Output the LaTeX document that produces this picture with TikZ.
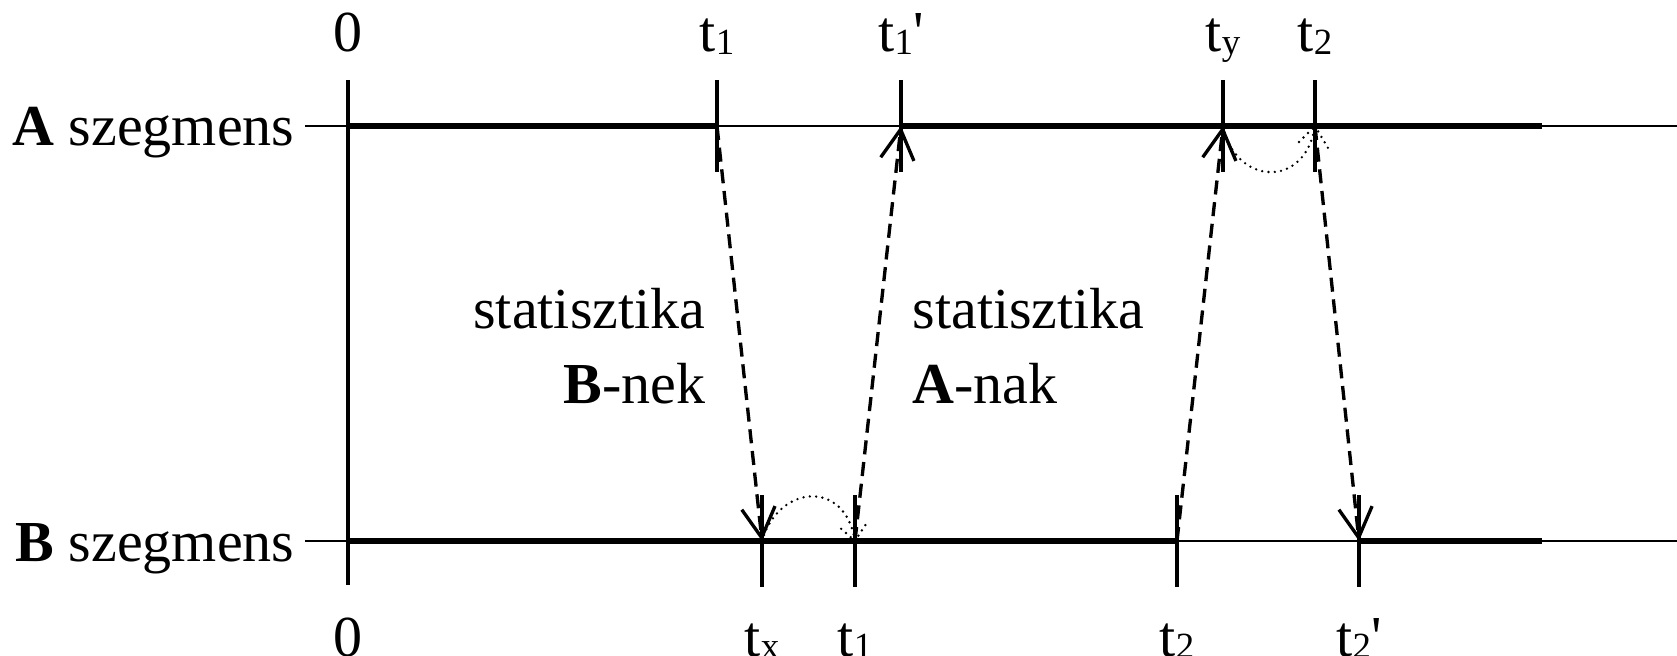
\documentclass[tikz,border=0pt]{standalone}
\usepackage{fontspec}
\setmainfont{Liberation Serif}
\usetikzlibrary{arrows.meta,calc,positioning}
% t with a small index
\newcommand{\tsub}[1]{t\raisebox{-0.85pt}{\fontsize{10.5}{10}\selectfont #1}}

\begin{document}
\begin{tikzpicture}[font=\fontsize{16.5}{21.3}\selectfont,
  axis/.style={line width=0.4pt},
  seg/.style={line width=1.9pt},
  tick/.style={line width=1pt},
  msg/.style={line width=0.95pt,dash pattern=on 4pt off 2.2pt,-{Straight Barb[length=8.5pt,width=9.5pt]}},
  wait/.style={line width=0.75pt,line cap=round,dash pattern=on 0pt off 1.8pt},
  lab/.style={anchor=base,inner sep=0pt}]
\useasboundingbox (-3.48,-1.14) rectangle (13.29,5.41);
% the two time axes: A at y=4.15, B at y=0
\foreach \y/\s in {4.15/A,0/B}{
  \draw[axis] (-0.43,\y) coordinate (\s L) -- (13.29,\y) coordinate (\s R);
  \node[anchor=base east,inner sep=0pt] (name\s) at (-0.53,\y-0.2) {\textbf{\s} szegmens};
}
\foreach \n/\x in {a0/0,a1/3.69,a1p/5.53,ay/8.75,a2/9.67,aE/11.94}
  \coordinate (\n) at (\x,4.15);
\foreach \n/\x in {b0/0,bx/4.14,b1/5.07,b2/8.29,b2p/10.11,bE/11.94}
  \coordinate (\n) at (\x,0);
% busy parts of the segments
\draw[seg] (a0) -- (a1) (a1p) -- (aE);
\draw[seg] (b0) -- (b2) (b2p) -- (bE);
\draw[tick] ($(a0)+(0,0.46)$) -- ($(b0)+(0,-0.44)$);
\foreach \p in {a1,a1p,ay,a2,bx,b1,b2,b2p}
  \draw[tick] ($(\p)+(0,0.46)$) -- ($(\p)+(0,-0.46)$);
% time marks
\foreach \p/\t in {a0/0,a1/{\tsub{1}},a1p/{\tsub{1}\textquotesingle},ay/{\tsub{y}},a2/{\tsub{2}}}
  \node[lab] (l\p) at ($(\p)+(0,0.74)$) {\t};
\foreach \p/\t in {b0/0,bx/{\tsub{x}},b1/{\tsub{1}},b2/{\tsub{2}},b2p/{\tsub{2}\textquotesingle}}
  \node[lab] (l\p) at ($(\p)+(0,-1.15)$) {\t};
% statistics sent over
\draw[msg] (a1) -- (bx);
\draw[msg] (b1) -- (a1p);
\draw[msg] (b2) -- (ay);
\draw[msg] (a2) -- (b2p);
\draw[wait] (bx) .. controls +(0.16,0.56) and +(-0.1,0.63) .. (b1) -- ++(-0.17,0.15) (b1) -- ++(0.13,0.2);
\draw[wait] (ay) .. controls +(0.12,-0.59) and +(-0.1,-0.64) .. (a2) -- ++(-0.17,-0.17) (a2) -- ++(0.13,-0.22);
\node[anchor=north east,align=right,inner sep=0pt] (statB) at (3.58,2.53) {statisztika\\\textbf{B}-nek};
\node[anchor=north west,align=left,inner sep=0pt] (statA) at (5.64,2.53) {statisztika\\\textbf{A}-nak};
\end{tikzpicture}
\end{document}
